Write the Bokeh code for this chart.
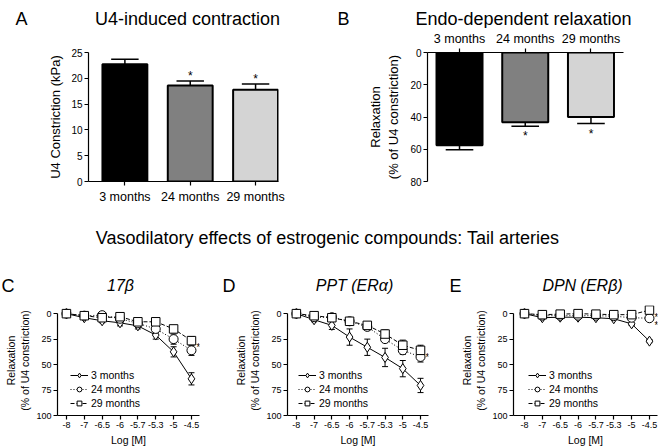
from bokeh.plotting import figure
from bokeh.models import Range1d, FixedTicker, Label, Legend, LegendItem, LinearAxis
from bokeh.layouts import column, row
from bokeh.embed import file_html
from bokeh.resources import INLINE
from bokeh.core.properties import value

FONT = "Liberation Sans"

# ---------------- data ----------------
groups = ["3 months", "24 months", "29 months"]
bar_colors = ["#000000", "#808080", "#d4d4d4"]
a_mean = [22.7, 18.6, 17.8]
a_sem = [1.0, 0.9, 1.1]
a_sig = ["", "*", "*"]
b_mean = [57.5, 43.2, 40.0]
b_sem = [2.8, 2.6, 4.1]
b_sig = ["", "*", "*"]

doses = ["-8", "-7", "-6.5", "-6", "-5.7", "-5.3", "-5", "-4.5"]

c_3m = [0, 4, 7, 9, 12, 21, 37.5, 64]
c_3m_err = [0, 1.5, 2, 3, 3, 4, 5, 6]
c_24m = [0, 2, 1.5, 5, 9.5, 15, 25, 36]
c_24m_err = [0, 1.5, 2, 2.5, 3, 4, 5, 5]
c_29m = [0, 2, 4, 3, 8, 8, 15, 26.5]
c_29m_err = [0, 1.5, 2, 2, 2, 3, 3, 4]
c_sig = ["", "", "*"]

d_3m = [0, 6, 11.5, 23, 33, 43, 54, 70.5]
d_3m_err = [0, 2, 4, 8, 8, 9, 8, 7]
d_24m = [0, 3.5, 3.5, 7.5, 13, 25, 36, 42.5]
d_24m_err = [0, 1.5, 2, 2, 3, 3, 4, 5]
d_29m = [0, 2, 4, 7.5, 11.5, 20, 31, 36]
d_29m_err = [0, 1.5, 2, 2, 3, 4, 5, 5]
d_sig = ["", "", "*"]

e_3m = [0, 4, 3.5, 3.5, 4, 5, 10, 27]
e_3m_err = [0, 1, 1, 1, 1, 1, 1.5, 1.5]
e_24m = [0, 2, 2, 2, 2, 2.5, 4, 4.5]
e_24m_err = [0, 1, 1, 1, 1, 1, 1.5, 2.5]
e_29m = [0, 1, 0.5, 0, 0.5, 1, 1, -3.5]
e_29m_err = [0, 1, 1, 1, 1, 1, 1.5, 2]
e_sig = ["", "*", "*"]

series_names = ["3 months", "24 months", "29 months"]
series_markers = ["diamond", "circle", "square"]
series_sizes = [10, 9, 8.5]
series_dash = ["solid", "1 2", "4 2"]

panel_letters = ["A", "B", "C", "D", "E"]
panel_titles = ["U4-induced contraction", "Endo-dependent relaxation",
                "17\u03b2", "PPT (ER\u03b1)", "DPN (ER\u03b2)"]
section_title = "Vasodilatory effects of estrogenic compounds: Tail arteries"


def style_axis(ax, tick_size, label_size):
    ax.axis_line_color = "black"
    ax.axis_line_width = 1.2
    ax.major_tick_line_color = "black"
    ax.major_tick_line_width = 1.2
    ax.major_tick_in = 0
    ax.major_tick_out = 4
    ax.minor_tick_line_color = None
    ax.major_label_text_font = FONT
    ax.major_label_text_font_size = tick_size
    ax.major_label_text_color = "black"
    ax.major_label_standoff = 2
    ax.axis_label_text_font = FONT
    ax.axis_label_text_font_size = label_size
    ax.axis_label_text_font_style = "normal"
    ax.axis_label_text_color = "black"


def add_label(p, x, y, text, size, style="normal", align="left"):
    p.add_layout(Label(x=x, y=y, x_units="screen", y_units="screen", text=text,
                       text_font=FONT, text_font_size=size, text_font_style=style,
                       text_align=align, text_baseline="alphabetic", text_color="black"))


def base_fig(width, height, left, right, top, bottom, x_range, y_range):
    p = figure(width=width, height=height, x_range=x_range, y_range=y_range,
               output_backend="svg", toolbar_location=None,
               min_border_left=left, min_border_right=right,
               min_border_top=top, min_border_bottom=bottom,
               x_axis_location=None, y_axis_location=None)
    p.outline_line_color = None
    p.xgrid.visible = False
    p.ygrid.visible = False
    return p


def strip(width, height):
    p = figure(width=width, height=height, x_range=Range1d(0, 1), y_range=Range1d(0, 1),
               output_backend="svg", toolbar_location=None, min_border=0,
               x_axis_location=None, y_axis_location=None)
    p.outline_line_color = None
    p.xgrid.visible = False
    p.ygrid.visible = False
    return p


# ---------------- header (A / B titles) ----------------
ph = strip(660, 28)
add_label(ph, 15, 10, panel_letters[0], "18px")
add_label(ph, 187, 10, panel_titles[0], "18px", align="center")
add_label(ph, 337, 10, panel_letters[1], "18px")
add_label(ph, 523, 10, panel_titles[1], "18px", align="center")

# ---------------- panel A ----------------
xs = list(range(len(groups)))
pa = base_fig(330, 187, 88, 52, 22, 34, Range1d(-0.557, 2.351), Range1d(0, 25))
ax = LinearAxis(ticker=FixedTicker(ticks=[0, 5, 10, 15, 20, 25]), axis_label="U4 Constriction (kPa)")
style_axis(ax, "10px", "13px")
ax.axis_label_standoff = 5
pa.add_layout(ax, "left")
bx = LinearAxis(ticker=FixedTicker(ticks=xs), major_label_overrides={i: g for i, g in enumerate(groups)})
style_axis(bx, "12.5px", "12px")
bx.major_label_standoff = 4
pa.add_layout(bx, "below")
pa.vbar(x=xs, top=a_mean, bottom=0, width=0.687, fill_color=bar_colors,
        line_color="black", line_width=2)
a_hi = [m + s for m, s in zip(a_mean, a_sem)]
pa.segment(x0=xs, y0=a_mean, x1=xs, y1=a_hi, line_color="black", line_width=1.5)
pa.segment(x0=[x - 0.21 for x in xs], y0=a_hi, x1=[x + 0.21 for x in xs], y1=a_hi,
           line_color="black", line_width=1.5)
pa.text(x=xs, y=a_hi, text=a_sig, text_font=value(FONT), text_font_size="12px",
        text_align="center", text_baseline="alphabetic", y_offset=-5, text_color="black")

# ---------------- panel B ----------------
pb = base_fig(330, 187, 97, 37, 24, 32, Range1d(-0.487, 2.495), Range1d(80, 0))
ay = LinearAxis(ticker=FixedTicker(ticks=[0, 20, 40, 60, 80]),
                axis_label="Relaxation\n(% of U4 constriction)")
style_axis(ay, "10px", "13px")
ay.axis_label_standoff = 6
pb.add_layout(ay, "left")
ab = LinearAxis(ticker=FixedTicker(ticks=xs), major_label_overrides={i: g for i, g in enumerate(groups)})
style_axis(ab, "12.5px", "12px")
ab.major_label_standoff = 3
pb.add_layout(ab, "above")
pb.vbar(x=xs, top=b_mean, bottom=0, width=0.70, fill_color=bar_colors,
        line_color="black", line_width=2)
b_lo = [m + s for m, s in zip(b_mean, b_sem)]
pb.segment(x0=xs, y0=b_mean, x1=xs, y1=b_lo, line_color="black", line_width=1.5)
pb.segment(x0=[x - 0.21 for x in xs], y0=b_lo, x1=[x + 0.21 for x in xs], y1=b_lo,
           line_color="black", line_width=1.5)
pb.text(x=xs, y=b_lo, text=b_sig, text_font=value(FONT), text_font_size="12px",
        text_align="center", text_baseline="alphabetic", y_offset=10, text_color="black")

# ---------------- middle strip: section title + C/D/E headers ----------------
pm = strip(660, 84)
add_label(pm, 327, 62, section_title, "18px", align="center")
add_label(pm, 1, 14, panel_letters[2], "18px")
add_label(pm, 120, 14, panel_titles[2], "16px", style="italic", align="center")
add_label(pm, 222, 14, panel_letters[3], "18px")
add_label(pm, 354, 14, panel_titles[3], "16px", style="italic", align="center")
add_label(pm, 449, 14, panel_letters[4], "18px")
add_label(pm, 582, 14, panel_titles[4], "16px", style="italic", align="center")


# ---------------- line panels ----------------
def line_panel(width, left, right, top, height, x_start, data, errs, sig, legend_x):
    bottom = 149 - top - height
    p = base_fig(width, 149, left, right, top, bottom, Range1d(x_start, 7.45), Range1d(100, -8))
    yax = LinearAxis(ticker=FixedTicker(ticks=[0, 25, 50, 75, 100]), bounds=(0, 100),
                     axis_label="Relaxation\n(% of U4 constriction)")
    style_axis(yax, "9px", "10.5px")
    yax.axis_label_standoff = 2
    p.add_layout(yax, "left")
    xax = LinearAxis(ticker=FixedTicker(ticks=list(range(len(doses)))),
                     major_label_overrides={i: d for i, d in enumerate(doses)},
                     axis_label="Log [M]")
    style_axis(xax, "9px", "10.5px")
    xax.axis_label_standoff = 3
    p.add_layout(xax, "below")
    xi = list(range(len(doses)))
    items = []
    line_rs = []
    for k in range(3):
        ys = data[k]
        es = errs[k]
        lr = p.line(xi, ys, line_color="black", line_width=1, line_dash=series_dash[k])
        lo = [y - e for y, e in zip(ys, es)]
        hi = [y + e for y, e in zip(ys, es)]
        p.segment(x0=xi, y0=lo, x1=xi, y1=hi, line_color="black", line_width=1)
        p.scatter(x=xi + xi, y=lo + hi, marker="dash", size=6, line_color="black", line_width=1)
        line_rs.append(lr)
    for k in range(3):
        ys = data[k]
        mr = p.scatter(xi, ys, marker=series_markers[k], size=series_sizes[k],
                       fill_color="white", line_color="black", line_width=1)
        items.append(LegendItem(label=series_names[k], renderers=[line_rs[k], mr]))
        if sig[k]:
            p.text(x=[xi[-1]], y=[ys[-1]], text=[sig[k]], text_font=value(FONT),
                   text_font_size="10px", text_align="left", text_baseline="alphabetic",
                   x_offset=5, y_offset=7, text_color="black")
    leg = Legend(items=items, location=(legend_x, 6), orientation="vertical",
                 label_text_font=FONT, label_text_font_size="10.5px", label_text_color="black",
                 glyph_width=18, glyph_height=12, label_height=12, spacing=2,
                 padding=0, margin=0, label_standoff=3,
                 border_line_alpha=0, background_fill_alpha=0)
    p.add_layout(leg, "center")
    return p


pc = line_panel(220, 57, 21, 3, 113, -0.5,
                [c_3m, c_24m, c_29m], [c_3m_err, c_24m_err, c_29m_err], c_sig, 13)
pd = line_panel(220, 67, 12, 3, 113, -0.5,
                [d_3m, d_24m, d_29m], [d_3m_err, d_24m_err, d_29m_err], d_sig, 11)
pe = line_panel(220, 73, 3, 6, 110, -0.616,
                [e_3m, e_24m, e_29m], [e_3m_err, e_24m_err, e_29m_err], e_sig, 15)

layout = column(ph, row(pa, pb), pm, row(pc, pd, pe))
open("out.html", "w").write(file_html(layout, INLINE))
